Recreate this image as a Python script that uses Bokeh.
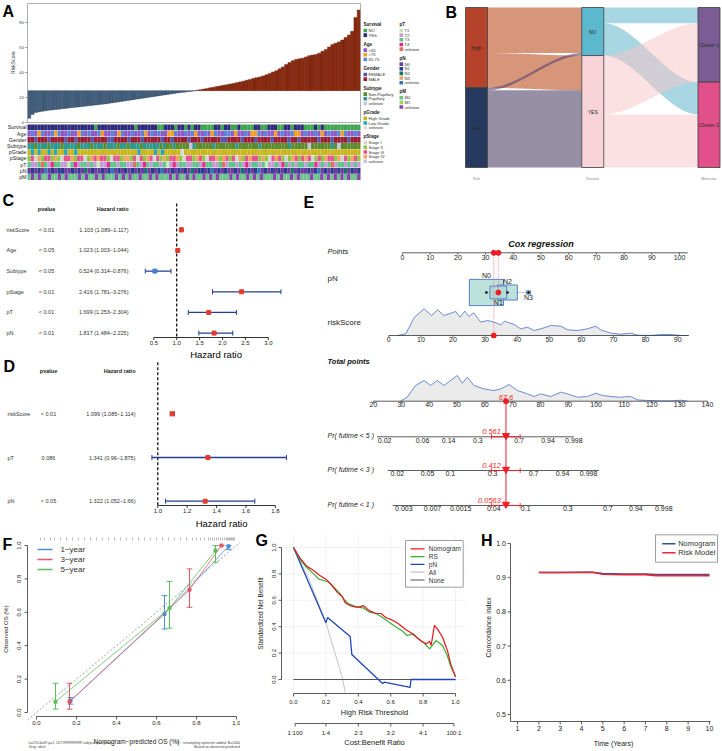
import numpy as np
from bokeh.plotting import figure
from bokeh.layouts import row, column
from bokeh.models import Range1d
from bokeh.embed import file_html
from bokeh.resources import INLINE
from bokeh.core.properties import value

FONT = "Liberation Sans"

# ============================ DATA ============================
# ---- A: sorted risk score and clinical annotation tracks ----
risk_score = [3.5, 6.5, 8.0, 8.5, 9.0, 9.4, 9.8, 10.1, 10.4, 10.7,
              11.0, 11.3, 11.6, 11.9, 12.2, 12.5, 12.8, 13.1, 13.4, 13.7,
              14.0, 14.3, 14.6, 14.9, 15.3, 15.7, 16.1, 16.5, 16.9, 17.3,
              17.7, 18.1, 18.5, 18.9, 19.3, 19.7, 20.1, 20.5, 20.9, 21.3,
              21.7, 22.1, 22.5, 22.9, 23.3, 23.7, 24.0, 24.3, 24.6, 24.9,
              25.2, 25.8, 26.3, 26.8, 27.3, 27.8, 28.3, 28.8, 29.3, 29.8,
              30.3, 30.8, 31.3, 31.9, 32.5, 33.1, 33.8, 34.5, 35.2, 35.9,
              36.5, 37.3, 38.2, 39.3, 40.5, 41.5, 43.0, 44.5, 46.5, 48.0,
              49.5, 50.5, 51.0, 51.5, 52.5, 53.5, 54.0, 54.5, 55.5, 57.0,
              58.5, 60.5, 62.5, 63.5, 64.5, 66.0, 68.0, 70.0, 73.0, 84.0, 90.0]
risk_cutoff = 25.5
risk_ticks = [0, 20, 40, 60, 80]

anno_names = ["Survival", "Age", "Gender", "Subtype", "pGrade", "pStage", "pT", "pN", "pM"]
anno_tracks = {
    "Survival": "YYYYYYYYYYYYYYYYYYYYNYYYYYYYYYYYNYYYYYYNNYYYNYYNYNYYNNNNYYNYYNNYNNNNYYNNYYYNNYYNYYYNNNYNYNNNNNNNNNNN",
    "Age":      "abaobaabobaabaaobabaaboaabaobaabaaboababaaoobaababoaabaobaabbaoaabaoobabaaoabaabooabaabaoabaabobaaba",
    "Gender":   "MMFMMMFMMMMFMMFMMMMFMMMMFFMMMMFMMMFMMMMMFMMFMMMMFMMMFMMMMMFFMMMMFMMMFMMMMFMMMMFMMFMMMMMFMMMFMMMMFMMM",
    "Subtype":  "ppnpppnpppnppppnpppnpppnpppnppnpppnpppppnpnnpnnnnupnnnnnpnnnnnnpnnnnnnpnnnnnnnnpnnnnnunnnnnnpnunnnnnn",
    "pGrade":   "hlhlhhlhlhhlhhlhhhhhhhhhhhhhhhhhhlhhhhlhlhhhhhuhhhhhhhhhhhhhhhhhhhhhhhhhhhhhhhhhhhhhhhhhhhhhhhhhhhhh",
    "pStage":   "23142332421334233124343321332442313243132423342133243213342432314234332421343212432343123243324132432",
    "pT":       "3223u324332213423323212243323322u32432332312423322332433223u23323242332312232432323323342323u23323232",
    "pN":       "01010u0101100101020100101u01010101020101u00101010201101u0101001020101u01010101020100101u010101020101",
    "pM":       "0u0u00u00u0u000u0u00u0u000u0u0u00u00u0u000u0u00u0u00u0u0u000u0u00u0u0u000u0u00u0u000u00u0u0u0u0u00u",
}
anno_keys = {"Survival": "NY", "Age": "aob", "Gender": "FM", "Subtype": "npu", "pGrade": "hlu",
             "pStage": "1234u", "pT": "1234u", "pN": "0123u", "pM": "01u"}
anno_labels = {
    "Survival": ["NO", "YES"], "Age": ["<65", ">75", "65-75"], "Gender": ["FEMALE", "MALE"],
    "Subtype": ["Non-Papillary", "Papillary", "unknow"], "pGrade": ["High Grade", "Low Grade", "unknow"],
    "pStage": ["Stage I", "Stage II", "Stage III", "Stage IV", "unknow"],
    "pT": ["T1", "T2", "T3", "T4", "unknow"], "pN": ["N0", "N1", "N2", "N3", "unknow"],
    "pM": ["M0", "M1", "unknow"]}
anno_colors = {
    "Survival": ["#3ea44f", "#2e2b7c"], "Age": ["#8d5bc8", "#f5a023", "#5b85d6"],
    "Gender": ["#5556a8", "#9b1d33"], "Subtype": ["#5a8c2c", "#2a9a90", "#c9c5e3"],
    "pGrade": ["#c9b61c", "#22a6b8", "#dddddd"],
    "pStage": ["#d5d5d5", "#8dc63f", "#e6538f", "#f4a25d", "#c9c5e3"],
    "pT": ["#c6e8bd", "#c29bd6", "#5fc38c", "#e5288a", "#e0705e"],
    "pN": ["#6b3c9b", "#2b3b8d", "#18706e", "#f3a35f", "#2f77b6"],
    "pM": ["#6cc38b", "#a0d356", "#8a40b0"]}
legend_col1 = ["Survival", "Age", "Gender", "Subtype", "pGrade", "pStage"]
legend_col2 = ["pT", "pN", "pM"]

# ---- B: alluvial Risk -> Survival -> Molecular ----
sankey_axes = ["Risk", "Survival", "Molecular"]
risk_levels = ["High", "Low"]
surv_levels = ["NO", "YES"]
mol_levels = ["Cluster 1", "Cluster 2"]
flow1_from = ["High", "High", "Low", "Low"]
flow1_to = ["NO", "YES", "NO", "YES"]
flow1_n = [72, 55, 4, 122]
flow2_from = ["NO", "NO", "YES", "YES"]
flow2_to = ["Cluster 1", "Cluster 2", "Cluster 1", "Cluster 2"]
flow2_n = [25, 51, 93, 84]
node_colors = {"High": "#b5432b", "Low": "#263a60", "NO": "#5cb8cf", "YES": "#f8d3d7",
               "Cluster 1": "#7b5c94", "Cluster 2": "#e1508a"}
flow_colors = {"High": "#bc4e21", "Low": "#52446b", "NO": "#51afc7", "YES": "#f7c3c5"}

# ---- C: univariate Cox ----
c_vars = ["riskScore", "Age", "Subtype", "pStage", "pT", "pN"]
c_pval = ["< 0.01", "< 0.05", "< 0.05", "< 0.01", "< 0.01", "< 0.01"]
c_hr = [1.103, 1.023, 0.524, 2.416, 1.699, 1.817]
c_lo = [1.089, 1.003, 0.314, 1.781, 1.253, 1.484]
c_hi = [1.117, 1.044, 0.876, 3.276, 2.304, 2.225]
c_ticks = [0.5, 1.0, 1.5, 2.0, 2.5, 3.0]
# ---- D: multivariate Cox ----
d_vars = ["riskScore", "pT", "pN"]
d_pval = ["< 0.01", "0.086", "< 0.05"]
d_hr = [1.099, 1.341, 1.322]
d_lo = [1.085, 0.96, 1.052]
d_hi = [1.114, 1.875, 1.66]
d_ticks = [1.0, 1.2, 1.4, 1.6, 1.8]

# ---- E: nomogram ----
points_ticks = [0, 10, 20, 30, 40, 50, 60, 70, 80, 90, 100]
pn_levels = ["N0", "N1", "N2", "N3"]
pn_points = [30.3, 34.6, 37.9, 45.5]
pn_freq = [0.63, 0.15, 0.21, 0.01]
rs_ticks = [0, 10, 20, 30, 40, 50, 60, 70, 80, 90]
rs_grid = [2.7, 5.3, 7.9, 11.0, 13.3, 15.2, 17.2, 20.9, 22.2, 23.7, 25.0, 26.4, 28.7, 30.7,
           32.8, 34.9, 36.1, 39.0, 41.1, 43.2, 45.3, 47.4, 50.5, 53.6, 55.7, 58.8, 61.9,
           64.5, 66.0, 69.2, 72.3, 75.4, 77.5, 81.6, 84.7, 87.9, 91.0, 93.1]
rs_dens = [0, 1.7, 18, 26.7, 20, 25.7, 20, 24, 18.3, 24.3, 19, 22.7, 13.3, 15, 13.3, 10.7,
           14.3, 11, 6.7, 8.3, 5, 6.7, 10, 9.3, 5.7, 5, 6.7, 9.3, 5.7, 2.3, 1.3, 2.3, 0.3,
           0, 1, 1, 0, 0]
tp_ticks = [20, 30, 40, 50, 60, 70, 80, 90, 100, 110, 120, 130, 140]
tp_grid = [29.7, 32.1, 35.1, 38.1, 40.5, 42.9, 45.3, 50.1, 51.9, 53.7, 56.1, 59.7, 63.3,
           65.7, 68.7, 71.7, 75.3, 77.7, 80.1, 83.7, 87.3, 89.7, 93.3, 96.9, 99.9, 102.3,
           105.3, 108.8, 112.4, 114.9, 118.5, 123.2, 126.9, 130.4, 132.8]
tp_dens = [0, 4, 15.7, 20.7, 15.7, 20.7, 15.7, 25.7, 18, 24, 15.7, 12.3, 10.7, 12.3, 16.7,
           10.7, 7.3, 4.7, 7.3, 4.7, 9, 7.3, 4, 4.7, 8, 5.7, 4.7, 4, 4.7, 1.3, 0.7, 0.3,
           0.3, 1, 0]
pr_names = ["Pr( futime < 5 )", "Pr( futime < 3 )", "Pr( futime < 1 )"]
pr_tick_tp = [[24.0, 37.6, 47.0, 57.5, 72.3, 82.7, 92.0],
              [28.6, 39.4, 47.6, 62.8, 77.5, 87.9, 97.3],
              [30.9, 41.2, 51.3, 63.2, 74.7, 89.8, 104.2, 114.3, 124.3]]
pr_tick_lab = [["0.02", "0.06", "0.14", "0.3", "0.7", "0.94", "0.998"],
               ["0.02", "0.05", "0.1", "0.3", "0.7", "0.94", "0.998"],
               ["0.003", "0.007", "0.0015", "0.04", "0.1", "0.3", "0.7", "0.94", "0.998"]]
pr_span = [[21.3, 92.0], [25.1, 101.0], [26.9, 124.3]]
obs_riskscore = 32.7
obs_pn = "N1"
obs_total = 67.6
obs_total_ci = [62.4, 72.7]
obs_prob = ["0.561", "0.412", "0.0563"]

# ---- F: calibration ----
cal_names = ["1\u2212year", "3\u2212year", "5\u2212year"]
cal_pred = [[0.17, 0.64, 0.96], [0.165, 0.765, 0.925], [0.095, 0.665, 0.895]]
cal_obs = [[0.07, 0.59, 0.995], [0.065, 0.735, 1.0], [0.065, 0.625, 0.97]]
cal_lo = [[0.05, 0.50, 0.975], [0.02, 0.63, 1.0], [0.02, 0.505, 0.90]]
cal_hi = [[0.09, 0.70, 1.0], [0.175, 0.86, 1.0], [0.175, 0.785, 1.0]]
cal_colors = ["#4a8fd8", "#e05569", "#5cbf5c"]
rug_pred = [0.02, 0.04, 0.07, 0.09, 0.12, 0.15, 0.18, 0.21, 0.24, 0.27, 0.30, 0.33, 0.36,
            0.39, 0.42, 0.45, 0.48, 0.51, 0.54, 0.57, 0.60, 0.63, 0.66, 0.69, 0.72, 0.75,
            0.78, 0.80, 0.82, 0.84, 0.86, 0.87, 0.88, 0.89, 0.90, 0.91, 0.92, 0.93, 0.94,
            0.95, 0.955, 0.96, 0.965, 0.97, 0.975, 0.98, 0.985, 0.99]
unit_ticks = [0.0, 0.2, 0.4, 0.6, 0.8, 1.0]
unit_labels = ["0.0", "0.2", "0.4", "0.6", "0.8", "1.0"]

# ---- G: decision curve ----
dca_nom_t = [0.00, 0.04, 0.08, 0.12, 0.16, 0.20, 0.24, 0.27, 0.30, 0.32, 0.35, 0.38, 0.41,
             0.43, 0.47, 0.51, 0.54, 0.57, 0.61, 0.65, 0.69, 0.73, 0.76, 0.79, 0.82, 0.84,
             0.85, 0.87, 0.89, 0.92, 0.95, 0.97, 1.00]
dca_nom_v = [1.00, 0.92, 0.86, 0.83, 0.79, 0.76, 0.71, 0.66, 0.63, 0.58, 0.56, 0.55, 0.55,
             0.56, 0.52, 0.50, 0.50, 0.47, 0.45, 0.42, 0.38, 0.35, 0.32, 0.29, 0.27, 0.29,
             0.26, 0.41, 0.38, 0.32, 0.22, 0.12, 0.02]
dca_rs_t = [0.00, 0.04, 0.08, 0.125, 0.156, 0.187, 0.218, 0.249, 0.28, 0.31, 0.34, 0.39,
            0.43, 0.47, 0.51, 0.55, 0.59, 0.63, 0.67, 0.70, 0.74, 0.77, 0.80, 0.84, 0.88,
            0.92, 0.95, 0.97, 1.00]
dca_rs_v = [1.00, 0.91, 0.85, 0.80, 0.76, 0.75, 0.737, 0.70, 0.66, 0.61, 0.573, 0.548,
            0.543, 0.51, 0.50, 0.47, 0.434, 0.40, 0.37, 0.333, 0.346, 0.308, 0.283, 0.232,
            0.295, 0.258, 0.18, 0.10, 0.02]
dca_pn_t = [0.0, 0.2, 0.21, 0.35, 0.36, 0.55, 0.56, 0.72, 0.725, 1.0]
dca_pn_v = [1.0, 0.43, 0.47, 0.325, 0.19, -0.03, -0.02, -0.06, 0.0, 0.0]
dca_all_t = [0.0, 0.1, 0.2, 0.3, 0.32]
dca_all_v = [1.0, 0.75, 0.43, 0.02, -0.10]
dca_none_t = [0.0, 1.0]
dca_none_v = [0.0, 0.0]
dca_names = ["Nomogram", "RS", "pN", "All", "None"]
dca_colors = ["#e8161d", "#33b035", "#2047b5", "#c4c4c4", "#555555"]
cb_ticks = [1 / 101, 0.2, 0.4, 0.6, 0.8, 100 / 101]
cb_labels = ["1:100", "1:4", "2:3", "3:2", "4:1", "100:1"]

# ---- H: C-index over time ----
cidx_years = [2, 3, 4, 4.5, 5, 6, 7, 7.5, 8, 9, 10]
cidx_nomogram = [0.915, 0.915, 0.916, 0.916, 0.912, 0.911, 0.911, 0.909, 0.909, 0.909, 0.909]
cidx_risk = [0.915, 0.915, 0.915, 0.916, 0.910, 0.909, 0.909, 0.906, 0.906, 0.906, 0.906]
h_names = ["Nomogram", "Risk Model"]
h_colors = ["#2f5597", "#e8253a"]
h_yticks = [0.5, 0.6, 0.7, 0.8, 0.9, 1.0]
h_xticks = [1, 2, 3, 4, 5, 6, 7, 8, 9, 10]


# ============================ HELPERS ============================
def mk(w, h, xr, yr):
    p = figure(width=w, height=h, x_range=xr, y_range=yr, toolbar_location=None,
               output_backend="svg", x_axis_location=None, y_axis_location=None,
               min_border_left=0, min_border_right=0, min_border_top=0,
               min_border_bottom=0, outline_line_color=None,
               background_fill_color="white", border_fill_color="white")
    p.xgrid.visible = False
    p.ygrid.visible = False
    return p


def txt(p, x, y, s, size, align="left", baseline="middle", style="normal",
        color="#222222", angle=0.0):
    ss = [s] if isinstance(s, str) else list(s)
    xs = np.atleast_1d(np.asarray(x, dtype=float)).tolist()
    ys = np.atleast_1d(np.asarray(y, dtype=float)).tolist()
    if len(xs) == 1 and len(ss) > 1:
        xs = xs * len(ss)
    if len(ys) == 1 and len(ss) > 1:
        ys = ys * len(ss)
    p.text(x=xs, y=ys, text=ss, text_font=value(FONT), text_font_size=size,
           text_align=align, text_baseline=baseline, text_font_style=style,
           text_color=color, angle=angle)


def mapper(x0v, x0p, kx, y0v, y0p, ky):
    return (lambda px: x0v + (px - x0p) / kx), (lambda py: y0v + (y0p - py) / ky)


AXC = "#333333"


def axis_x(p, Y, ticks, labels, py, lo, hi, size, tick=3.0, gap=1.5):
    n = len(ticks)
    p.segment(x0=[lo], y0=[Y(py)], x1=[hi], y1=[Y(py)], line_color=AXC, line_width=0.8)
    p.segment(x0=ticks, y0=[Y(py)] * n, x1=ticks, y1=[Y(py + tick)] * n, line_color=AXC,
              line_width=0.8)
    txt(p, ticks, Y(py + tick + gap), labels, size, align="center", baseline="top")


def axis_y(p, X, ticks, labels, px, lo, hi, size, lab_px, rotate, tick=3.0):
    n = len(ticks)
    p.segment(x0=[X(px)], y0=[lo], x1=[X(px)], y1=[hi], line_color=AXC, line_width=0.8)
    p.segment(x0=[X(px)] * n, y0=ticks, x1=[X(px - tick)] * n, y1=ticks, line_color=AXC,
              line_width=0.8)
    if rotate:
        txt(p, X(lab_px), ticks, labels, size, align="center", baseline="middle",
            angle=np.pi / 2)
    else:
        txt(p, X(lab_px), ticks, labels, size, align="right", baseline="middle")


def legend_box(p, X, Y, names, colors, box, x_line, x_text, y_items, size, lw=1.5, border=True):
    if border:
        p.quad(left=[X(box[0])], right=[X(box[1])], top=[Y(box[2])], bottom=[Y(box[3])],
               fill_color="white", line_color="#888888", line_width=0.8)
    for nm, c, yy in zip(names, colors, y_items):
        p.line([X(x_line[0]), X(x_line[1])], [Y(yy), Y(yy)], line_color=c, line_width=lw)
        txt(p, X(x_text), Y(yy), nm, size, color="#333333")


# ============================ PANEL A ============================
WA, HA = 430, 182
A_L, A_R, A_TOP, A_ZERO, A_PPU = 27.0, 360.0, 3.0, 122.0, 1.25
nA = len(risk_score)
A_BW = (A_R - A_L) / nA
AX, AY = mapper(0.0, A_L, A_BW, 0.0, A_ZERO, A_PPU)
pA = mk(WA, HA, Range1d(AX(0), AX(WA)), Range1d(AY(HA), AY(0)))
rsv = np.array(risk_score, dtype=float)
up = rsv > risk_cutoff
pA.vbar(x=np.arange(nA) + 0.5, width=1.0, top=np.maximum(rsv, risk_cutoff),
        bottom=np.minimum(rsv, risk_cutoff),
        fill_color=["#8b2a10" if u else "#44607f" for u in up],
        line_color=["#5e1a06" if u else "#2b3f57" for u in up], line_width=0.4)
pA.quad(left=[0], right=[nA], bottom=[0], top=[AY(A_TOP)], fill_color=None,
        line_color="#9a9a9a", line_width=0.8)
pA.segment(x0=[AX(24.5)] * len(risk_ticks), x1=[AX(A_L)] * len(risk_ticks),
           y0=risk_ticks, y1=risk_ticks, line_color="#555555", line_width=0.5)
txt(pA, AX(23.5), risk_ticks, [str(t) for t in risk_ticks], "4.2px", align="right",
    color="#444444")
txt(pA, AX(12), AY(62), "RiskScore", "5px", align="center", angle=np.pi / 2,
    color="#333333")
ROW_H = 6.2
for r, nm in enumerate(anno_names):
    codes = anno_tracks[nm]
    m = len(codes)
    ptop = 124.0 + r * ROW_H
    cols = [anno_colors[nm][anno_keys[nm].index(c)] for c in codes]
    pA.quad(left=[nA * j / m for j in range(m)], right=[nA * (j + 1) / m for j in range(m)],
            top=AY(ptop), bottom=AY(ptop + ROW_H - 0.4), fill_color=cols, line_color=None)
    txt(pA, AX(26), AY(ptop + ROW_H / 2 - 0.2), nm, "5.3px", align="right", color="#222222")


def anno_legend(names, x_px, y_px):
    y = y_px
    for nm in names:
        txt(pA, AX(x_px), AY(y), nm, "4.6px", style="bold", color="#222222")
        y += 6.0
        for lab, col in zip(anno_labels[nm], anno_colors[nm]):
            pA.quad(left=[AX(x_px)], right=[AX(x_px + 3.6)], top=[AY(y - 1.8)],
                    bottom=[AY(y + 1.8)], fill_color=col, line_color=None)
            txt(pA, AX(x_px + 5.0), AY(y), lab, "4.2px", color="#333333")
            y += 4.65
        y += 4.35


anno_legend(legend_col1, 363, 24)
anno_legend(legend_col2, 399, 24)
txt(pA, AX(2), AY(2.5), "A", "16px", baseline="top", style="bold", color="black")

# ============================ PANEL B ============================
WB, HB = 292, 182
B_X0, B_KX = 46.0, 116.25
B_TOTAL = float(sum(flow1_n))
B_KY = 160.0 / B_TOTAL
BX, BY = mapper(0.0, B_X0, B_KX, 0.0, 167.0, B_KY)
pB = mk(WB, HB, Range1d(BX(0), BX(WB)), Range1d(BY(HB), BY(0)))
HW = 11.0 / B_KX


def node_counts(levels, src, n):
    return [sum(v for s, v in zip(src, n) if s == lv) for lv in levels]


risk_n = node_counts(risk_levels, flow1_from, flow1_n)
surv_n = node_counts(surv_levels, flow1_to, flow1_n)
mol_n = node_counts(mol_levels, flow2_to, flow2_n)


def node_tops(levels, counts):
    tops, t = {}, B_TOTAL
    for lv, c in zip(levels, counts):
        tops[lv] = t
        t -= c
    return tops


tops_r = node_tops(risk_levels, risk_n)
tops_s = node_tops(surv_levels, surv_n)
tops_m = node_tops(mol_levels, mol_n)


def draw_flows(xa, xb, fr, to, n, src_lv, dst_lv, src_top, dst_top, alpha):
    fl = {(a, b): v for a, b, v in zip(fr, to, n)}
    so, do = dict(src_top), dict(dst_top)
    seg_s, seg_d = {}, {}
    for s in src_lv:
        for d in dst_lv:
            v = fl.get((s, d), 0)
            seg_s[(s, d)] = (so[s], so[s] - v)
            so[s] -= v
    for d in dst_lv:
        for s in src_lv:
            v = fl.get((s, d), 0)
            seg_d[(s, d)] = (do[d], do[d] - v)
            do[d] -= v
    u = np.linspace(0, 1, 60)
    sm = u * u * (3 - 2 * u)
    xs = xa + (xb - xa) * u
    for s in src_lv:
        for d in dst_lv:
            if fl.get((s, d), 0) <= 0:
                continue
            t0, b0 = seg_s[(s, d)]
            t1, b1 = seg_d[(s, d)]
            top = t0 + (t1 - t0) * sm
            bot = b0 + (b1 - b0) * sm
            pB.patch(np.concatenate([xs, xs[::-1]]), np.concatenate([top, bot[::-1]]),
                     fill_color=flow_colors[s], fill_alpha=alpha, line_color=None)


draw_flows(0 + HW, 1 - HW, flow1_from, flow1_to, flow1_n, risk_levels, surv_levels,
           tops_r, tops_s, 0.6)
draw_flows(1 + HW, 2 - HW, flow2_from, flow2_to, flow2_n, surv_levels, mol_levels,
           tops_s, tops_m, 0.5)
for k, (levels, counts, tops) in enumerate([(risk_levels, risk_n, tops_r),
                                            (surv_levels, surv_n, tops_s),
                                            (mol_levels, mol_n, tops_m)]):
    for lv, c in zip(levels, counts):
        pB.quad(left=[k - HW], right=[k + HW], top=[tops[lv]], bottom=[tops[lv] - c],
                fill_color=node_colors[lv], line_color="#3d3d3d", line_width=0.8)
        txt(pB, k, tops[lv] - c / 2, lv, "5px", align="center", color="#2a2a2a")
    txt(pB, k, BY(178), sankey_axes[k], "3.6px", align="center", color="#888888")
txt(pB, BX(15), BY(3.5), "B", "16px", baseline="top", style="bold", color="black")

# ============================ PANELS C / D ============================
NAVY, REDP, BLUEP = "#233d91", "#e53a2b", "#4a7bd0"


def forest(W, H, px_ref, v_ref, ppu, names, pvals, hr, lo, hi, ticks, head_y, row_y,
           axis_y, dash_top, name_x, pval_cx, hr_rx, title_base, lett, lett_x, lett_y):
    fx = lambda px: v_ref + (px - px_ref) / ppu
    p = mk(W, H, Range1d(fx(0), fx(W)), Range1d(H, 0))
    n = len(names)
    p.segment(x0=[1.0], y0=[dash_top], x1=[1.0], y1=[axis_y], line_color="black",
              line_width=1.2, line_dash="3 2")
    p.segment(x0=lo, y0=row_y, x1=hi, y1=row_y, line_color=NAVY, line_width=1.3)
    cap = 2.5
    p.segment(x0=lo + hi, y0=[y - cap for y in row_y] * 2, x1=lo + hi,
              y1=[y + cap for y in row_y] * 2, line_color=NAVY, line_width=1.0)
    pc = [REDP if h >= 1 else BLUEP for h in hr]
    p.scatter(x=hr, y=row_y, marker="square", size=4, fill_color=pc, line_color=pc)
    nt = len(ticks)
    p.segment(x0=[ticks[0]], y0=[axis_y], x1=[ticks[-1]], y1=[axis_y], line_color="black",
              line_width=0.8)
    p.segment(x0=ticks, y0=[axis_y] * nt, x1=ticks, y1=[axis_y + 2.5] * nt,
              line_color="black", line_width=0.8)
    txt(p, ticks, axis_y + 3, ["%.1f" % t for t in ticks], "6px", align="center",
        baseline="top", color="#222222")
    txt(p, (ticks[0] + ticks[-1]) / 2 + 5 / ppu, title_base, "Hazard ratio", "9.5px",
        align="center", baseline="alphabetic", color="black")
    txt(p, fx(name_x), row_y, names, "5.5px", color="#333333")
    txt(p, fx(pval_cx), row_y, pvals, "5.5px", align="center", color="#333333")
    txt(p, fx(hr_rx), row_y, ["%s (%s\u2013%s)" % (h, l, u) for h, l, u in zip(hr, lo, hi)],
        "5.5px", align="right", color="#333333")
    txt(p, fx(pval_cx), head_y, "pvalue", "5.5px", align="center", style="bold",
        color="#222222")
    txt(p, fx(hr_rx), head_y, "Hazard ratio", "5.5px", align="right", style="bold",
        color="#222222")
    txt(p, fx(lett_x), lett_y, lett, "16px", baseline="top", style="bold", color="black")
    return p


pC = forest(300, 176, 153.3, 0.5, 45.8, c_vars, c_pval, c_hr, c_lo, c_hi, c_ticks,
            26.5, [47.3 + 20.66 * i for i in range(len(c_vars))], 155.0, 21.0,
            6.0, 46.0, 128.0, 171.5, "C", 2.0, 9.5)
pD = forest(300, 172, 157.3, 1.0, 147.0, d_vars, d_pval, d_hr, d_lo, d_hi, d_ticks,
            12.0, [55.3 + 43.7 * i for i in range(len(d_vars))], 147.0, 3.7,
            7.0, 48.0, 135.0, 165.0, "D", 3.0, -0.5)

# ============================ PANEL E ============================
WE, HE = 422, 348
E_P0, E_PPP = 102.0, 2.77


def ex(px):
    return (np.asarray(px, dtype=float) - E_P0) / E_PPP


def rs2pt(v):
    return ex(88.3 + 3.21 * np.asarray(v, dtype=float))


def tp2pt(v):
    return ex(73.0 + 2.783 * (np.asarray(v, dtype=float) - 20.0))


pE = mk(WE, HE, Range1d(float(ex(0)), float(ex(WE))), Range1d(HE, 0))
E_PTS_Y, E_PN_Y, E_RS_Y, E_TP_Y = 70.3, 110.0, 153.0, 218.7
E_PR_Y = [254.3, 288.0, 323.0]
E_LX = float(ex(27))


def e_axis(xs, y, labels, lo, hi, ticks=True, lab_off=1.2):
    xs = np.asarray(xs, dtype=float)
    n = len(xs)
    pE.segment(x0=[float(lo)], y0=[y], x1=[float(hi)], y1=[y], line_color=AXC, line_width=0.8)
    if ticks:
        pE.segment(x0=xs, y0=[y] * n, x1=xs, y1=[y + 2.0] * n, line_color=AXC,
                   line_width=0.7)
    txt(pE, xs, y + lab_off, labels, "7px", align="center", baseline="top",
        color="#222222")


for grid_pt, dens, base in [(rs2pt(rs_grid), rs_dens, E_RS_Y), (tp2pt(tp_grid), tp_dens, E_TP_Y)]:
    yy = base - np.asarray(dens, dtype=float)
    px_ = np.concatenate([[grid_pt[0]], grid_pt, [grid_pt[-1]]])
    py_ = np.concatenate([[base], yy, [base]])
    pE.patch(px_, py_, fill_color="#ebebeb", line_color=None)
    pE.line(grid_pt, yy, line_color="#5b7fcf", line_width=0.9)

e_axis(points_ticks, E_PTS_Y, [str(t) for t in points_ticks], 0, 103, lab_off=1.7)
e_axis(rs2pt(rs_ticks), E_RS_Y, [str(t) for t in rs_ticks], rs2pt(0), rs2pt(93.5))
e_axis(tp2pt(tp_ticks), E_TP_Y, [str(t) for t in tp_ticks], tp2pt(20), tp2pt(140))
for i in range(3):
    e_axis(tp2pt(pr_tick_tp[i]), E_PR_Y[i], pr_tick_lab[i], tp2pt(pr_span[i][0]),
           tp2pt(pr_span[i][1]), ticks=False, lab_off=0.8)

pn_sz = [(43.0 * np.sqrt(f) / E_PPP, 33.0 * np.sqrt(f)) for f in pn_freq]
pE.segment(x0=[min(pn_points)], y0=[E_PN_Y], x1=[max(pn_points)], y1=[E_PN_Y],
           line_color="#c8c8c8", line_width=1.0)
for i in [0, 2, 1, 3]:
    w, h = pn_sz[i]
    c = pn_points[i]
    pE.quad(left=[c - w / 2], right=[c + w / 2], top=[E_PN_Y - h / 2], bottom=[E_PN_Y + h / 2],
            fill_color="#b2ddd5", fill_alpha=0.85, line_color="#5a7fcc", line_width=1.0)
pE.scatter(x=pn_points, y=[E_PN_Y] * len(pn_points), size=2, color="#222222")
for i, lv in enumerate(pn_levels):
    w, h = pn_sz[i]
    if i % 2 == 0:
        txt(pE, pn_points[i], E_PN_Y - h / 2 - 0.3, lv, "7px", align="center",
            baseline="bottom", color="#222222")
    else:
        txt(pE, pn_points[i], E_PN_Y + h / 2 + 0.3, lv, "7px", align="center",
            baseline="top", color="#222222")

txt(pE, E_LX, 68.7, "Points", "7.5px", style="italic", color="#222222")
txt(pE, 50, 61.5, "Cox regression", "9px", align="center", style="bold italic",
    color="#111111")
txt(pE, E_LX, 96.3, "pN", "8px", color="#222222")
txt(pE, E_LX, 139.7, "riskScore", "8px", color="#222222")
txt(pE, E_LX, 178.7, "Total points", "7.5px", style="bold italic", color="#111111")
for i in range(3):
    txt(pE, E_LX, E_PR_Y[i] - 1.0, pr_names[i], "7px", style="italic", color="#222222")

RED = "#ee1c25"
x_rs = float(rs2pt(obs_riskscore))
x_pn = pn_points[pn_levels.index(obs_pn)]
x_tot = float(tp2pt(obs_total))
pE.segment(x0=[x_rs, x_pn], y0=[E_PTS_Y, E_PTS_Y], x1=[x_rs, x_pn], y1=[E_RS_Y, E_PN_Y],
           line_color="#f07a7a", line_width=0.8, line_dash="1 1")
pE.segment(x0=[x_tot], y0=[E_TP_Y], x1=[x_tot], y1=[E_PR_Y[-1]], line_color=RED,
           line_width=1.0)
ci0, ci1 = float(tp2pt(obs_total_ci[0])), float(tp2pt(obs_total_ci[1]))
pE.segment(x0=[ci0] * 3, y0=E_PR_Y, x1=[ci1] * 3, y1=E_PR_Y, line_color=RED, line_width=1.0)
pE.segment(x0=[ci0] * 3 + [ci1] * 3, y0=[y - 2.5 for y in E_PR_Y] * 2,
           x1=[ci0] * 3 + [ci1] * 3, y1=[y + 2.5 for y in E_PR_Y] * 2, line_color=RED,
           line_width=0.8)
pE.scatter(x=[x_tot] * 3, y=[y - 1.2 for y in E_PR_Y], marker="inverted_triangle", size=7,
           color=RED)
pE.scatter(x=[x_rs, x_pn, x_rs, x_pn, x_tot], y=[E_PTS_Y, E_PTS_Y, E_RS_Y, E_PN_Y, E_TP_Y],
           size=5, color=RED)
txt(pE, x_tot, E_TP_Y - 1.0, "%.1f" % obs_total, "7.5px", align="center", baseline="bottom",
    style="italic", color=RED)
for i in range(3):
    txt(pE, float(tp2pt(65.8)), E_PR_Y[i] - 3.0, obs_prob[i], "7.5px", align="right",
        baseline="bottom", style="italic", color=RED)
txt(pE, float(ex(3)), 11.5, "E", "16px", baseline="top", style="bold", color="black")

# ============================ PANEL F ============================
WF, HF = 240, 221
FX, FY = mapper(0.0, 36.0, 200.0, 0.0, 182.0, 167.0)
pF = mk(WF, HF, Range1d(FX(0), FX(WF)), Range1d(FY(HF), FY(0)))
axis_y(pF, FX, unit_ticks, unit_labels, 27, 0, 1, "6px", 18, True)
axis_x(pF, FY, unit_ticks, unit_labels, 186, 0, 1, "6px")
txt(pF, FX(5), 0.5, "Observed OS (%)", "6px", align="center", angle=np.pi / 2)
txt(pF, 0.5, FY(211), "Nomogram\u2212predicted OS (%)", "6.5px", align="center")
pF.line([FX(27), 1.06], [FX(27), 1.06], line_color="#8a8a8a", line_width=0.8, line_dash="2 2")
pF.segment(x0=rug_pred, y0=[FY(10)] * len(rug_pred), x1=rug_pred, y1=[FY(7)] * len(rug_pred),
           line_color="#777777", line_width=0.5)
for i in range(3):
    c = cal_colors[i]
    pr_ = cal_pred[i]
    pF.line(pr_, cal_obs[i], line_color=c, line_width=0.9, line_alpha=0.85)
    pF.segment(x0=pr_, y0=cal_lo[i], x1=pr_, y1=cal_hi[i], line_color=c, line_width=1.0)
    pF.segment(x0=[v - 0.014 for v in pr_] * 2, y0=cal_lo[i] + cal_hi[i],
               x1=[v + 0.014 for v in pr_] * 2, y1=cal_lo[i] + cal_hi[i], line_color=c,
               line_width=1.0)
    pF.scatter(pr_, cal_obs[i], marker="square", size=3, color=c)
legend_box(pF, FX, FY, cal_names, cal_colors, None, (37, 52), 60, [19, 29, 39], "8px",
           lw=1.5, border=False)
txt(pF, FX(28), [FY(212.7), FY(216.7)],
    ["n=253 d=69 p=1, 107.9999999999 subjects per group", "Gray: ideal"], "3.5px",
    color="#444444")
txt(pF, FX(239.5), [FY(212.7), FY(216.7)],
    ["X \u2212 resampling optimism added, B=1000", "Based on observed-predicted"], "3.5px",
    align="right", color="#444444")
txt(pF, FX(2), FY(5.5), "F", "16px", baseline="top", style="bold", color="black")

# ============================ PANEL G ============================
WG, HG = 240, 221
GX, GY = mapper(0.0, 53.0, 162.0, 0.0, 149.0, 132.0)
pG = mk(WG, HG, Range1d(GX(0), GX(WG)), Range1d(GY(HG), GY(0)))
ng = len(unit_ticks)
pG.segment(x0=unit_ticks, y0=[GY(162)] * ng, x1=unit_ticks, y1=[GY(4)] * ng,
           line_color="#ececec", line_width=0.7)
pG.segment(x0=[GX(43)] * ng, y0=unit_ticks, x1=[GX(226)] * ng, y1=unit_ticks,
           line_color="#ececec", line_width=0.7)
axis_y(pG, GX, unit_ticks, unit_labels, 41, 0, 1, "6px", 33, True)
axis_x(pG, GY, unit_ticks, unit_labels, 163, 0, 1, "6px", gap=3.0)
axis_x(pG, GY, cb_ticks, cb_labels, 193, cb_ticks[0], cb_ticks[-1], "6px", gap=3.5)
txt(pG, GX(20), 0.5, "Standardized Net Benefit", "6.5px", align="center", angle=np.pi / 2)
txt(pG, 0.5, GY(182), "High Risk Threshold", "7.5px", align="center")
txt(pG, 0.5, GY(211.7), "Cost:Benefit Ratio", "7.5px", align="center")
dca_series = {"Nomogram": (dca_nom_t, dca_nom_v, 1.2), "RS": (dca_rs_t, dca_rs_v, 1.2),
              "pN": (dca_pn_t, dca_pn_v, 1.3), "All": (dca_all_t, dca_all_v, 1.0),
              "None": (dca_none_t, dca_none_v, 1.0)}
for nm in ["All", "None", "pN", "RS", "Nomogram"]:
    t_, v_, w_ = dca_series[nm]
    pG.line(t_, v_, line_color=dca_colors[dca_names.index(nm)], line_width=w_)
legend_box(pG, GX, GY, dca_names, dca_colors, (165, 222.7, 10, 56.7), (170, 184), 188.3,
           [18.3 + 7.8 * i for i in range(5)], "6.5px", lw=1.2)
txt(pG, GX(15), GY(1.5), "G", "16px", baseline="top", style="bold", color="black")

# ============================ PANEL H ============================
WH, HH = 242, 221
HX, HY = mapper(1.0, 37.0, 21.33, 0.5, 184.0, 342.0)
pH = mk(WH, HH, Range1d(HX(0), HX(WH)), Range1d(HY(HH), HY(0)))
axis_y(pH, HX, h_yticks, ["%.1f" % t for t in h_yticks], 30, HY(191), 1.0, "7px", 25.5, False)
axis_x(pH, HY, h_xticks, [str(t) for t in h_xticks], 191, HX(30), 10.05, "7px", gap=1.5)
txt(pH, HX(8), 0.755, "Concordance index", "7px", align="center", angle=np.pi / 2)
txt(pH, 5.5, HY(212.7), "Time (Years)", "7px", align="center")
pH.line(cidx_years, cidx_nomogram, line_color=h_colors[0], line_width=1.6)
pH.line(cidx_years, cidx_risk, line_color=h_colors[1], line_width=1.6)
legend_box(pH, HX, HY, h_names, h_colors, (175, 237, 4.3, 31.7), (181.7, 195), 197.7,
           [13.3, 22.3], "7.5px", lw=1.4)
txt(pH, HX(0.5), HY(1.5), "H", "16px", baseline="top", style="bold", color="black")

# ============================ LAYOUT ============================
layout = column(row(pA, pB), row(column(pC, pD), pE), row(pF, pG, pH))
open("out.html", "w").write(file_html(layout, INLINE, title="figure"))
